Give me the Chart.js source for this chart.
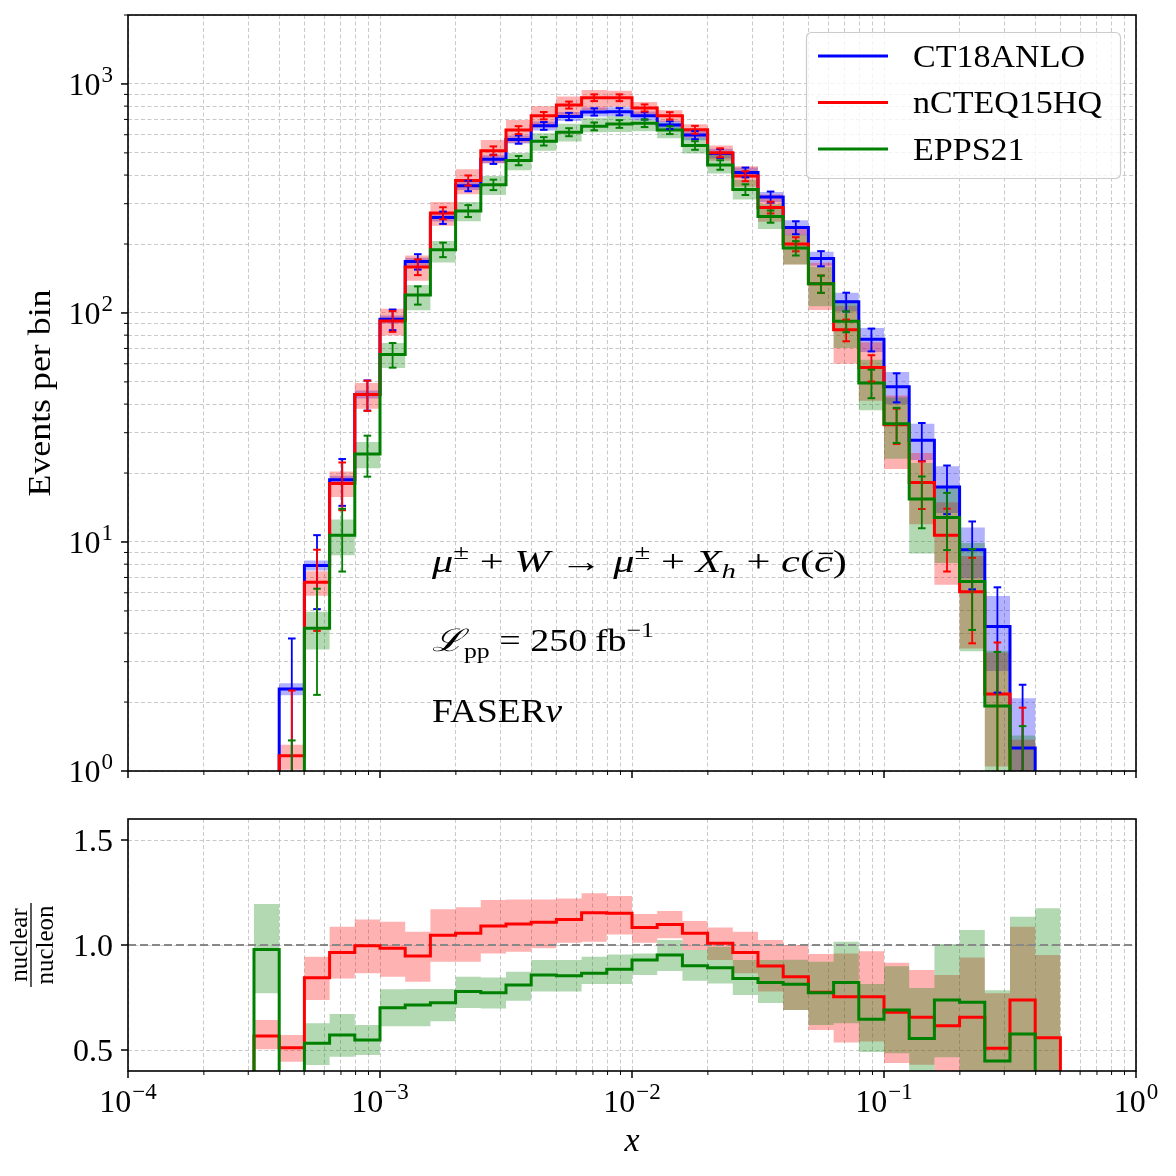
<!DOCTYPE html>
<html>
<head>
<meta charset="utf-8">
<script src="https://cdn.jsdelivr.net/npm/chart.js@4.4.1/dist/chart.umd.min.js"></script>
<style>
html, body { margin:0; padding:0; background:#ffffff; }
#wrap { position:relative; width:1176px; height:1176px; overflow:hidden; background:#ffffff; }
#cTop { position:absolute; left:0; top:0; }
#cBot { position:absolute; left:0; top:790px; }
</style>
</head>
<body>
<div id="wrap">
<canvas id="cTop" width="1176" height="790"></canvas>
<canvas id="cBot" width="1176" height="386"></canvas>
</div>
<script>
// ---------------- data ----------------
const binEdges = [3.162e-4, 3.981e-4, 5.012e-4, 6.310e-4, 7.943e-4, 1.000e-3, 1.259e-3, 1.585e-3, 1.995e-3, 2.512e-3,
  3.162e-3, 3.981e-3, 5.012e-3, 6.310e-3, 7.943e-3, 1.000e-2, 1.259e-2, 1.585e-2, 1.995e-2, 2.512e-2,
  3.162e-2, 3.981e-2, 5.012e-2, 6.310e-2, 7.943e-2, 1.000e-1, 1.259e-1, 1.585e-1, 1.995e-1, 2.512e-1,
  3.162e-1, 3.981e-1, 5.012e-1];
const seriesLabels = ['CT18ANLO', 'nCTEQ15HQ', 'EPPS21'];

const ct18Events = [0.30, 2.28, 7.90, 18.7, 44.1, 93.8, 167.6, 261, 359, 469, 572, 656, 721, 755, 757, 726,
  661, 598, 497, 411, 321, 236, 173, 112, 76.7, 47.6, 27.8, 17.4, 9.25, 4.27, 1.26, 0.30];
const ct18StatErr = [0.55, 1.51, 2.81, 4.32, 6.64, 9.69, 12.95, 16.16, 18.95, 21.66, 23.92, 25.61, 26.85, 27.48, 27.51, 26.94,
  25.71, 24.45, 22.29, 20.27, 17.92, 15.36, 13.15, 10.58, 8.76, 6.90, 5.27, 4.17, 3.04, 2.07, 1.12, 0.55];
const ct18PdfRelErr = [0.06, 0.06, 0.05, 0.04, 0.04, 0.04, 0.04, 0.04, 0.04, 0.04, 0.04, 0.045, 0.045, 0.045, 0.045, 0.045,
  0.045, 0.05, 0.05, 0.05, 0.05, 0.075, 0.07, 0.095, 0.12, 0.16, 0.18, 0.23, 0.25, 0.36, 0.65, 0.65];

const ncteqEvents = [0.17, 1.165, 6.67, 18.0, 44.0, 92.3, 158.9, 273, 379, 511, 629, 727, 809, 871, 871, 786,
  726, 631, 501, 396, 289, 200, 134, 84.4, 57.8, 32.5, 18.2, 10.7, 6.07, 2.17, 0.93, 0.17];
const ncteqStatErr = [0.41, 1.08, 2.58, 4.24, 6.63, 9.61, 12.61, 16.52, 19.47, 22.6, 25.08, 26.96, 28.44, 29.51, 29.51, 28.04,
  26.94, 25.12, 22.38, 19.9, 17.0, 14.14, 11.58, 9.19, 7.6, 5.7, 4.27, 3.27, 2.46, 1.47, 0.96, 0.41];

const eppsEvents = [0.29, 0.59, 4.20, 10.7, 24.2, 65.8, 119.7, 189, 279, 363, 463, 562, 616, 653, 669, 674,
  629, 539, 443, 346, 264, 192, 134, 92.0, 49.5, 32.8, 15.4, 12.8, 6.72, 1.92, 0.72, 0.06];
const eppsStatErr = [0.54, 0.77, 2.05, 3.27, 4.92, 8.11, 10.94, 13.75, 16.7, 19.05, 21.52, 23.71, 24.82, 25.55, 25.87, 25.96,
  25.08, 23.22, 21.05, 18.6, 16.25, 13.86, 11.58, 9.59, 7.04, 5.73, 3.92, 3.58, 2.59, 1.39, 0.85, 0.24];

const ncteqRatio = [0.567, 0.511, 0.844, 0.964, 0.997, 0.984, 0.948, 1.046, 1.056, 1.090, 1.100, 1.108, 1.122, 1.154, 1.151, 1.083,
  1.098, 1.056, 1.008, 0.964, 0.900, 0.849, 0.775, 0.754, 0.754, 0.680, 0.656, 0.616, 0.656, 0.508, 0.738, 0.558];
const ncteqRatioLo = [0.503, 0.444, 0.738, 0.841, 0.865, 0.849, 0.825, 0.92, 0.92, 0.96, 0.968, 0.984, 1.011, 1.016, 1.05, 1.011,
  1.032, 0.976, 0.929, 0.865, 0.779, 0.69, 0.595, 0.536, 0.54, 0.438, 0.43, 0.374, 0.37, 0.245, 0.3, 0.3];
const ncteqRatioHi = [0.643, 0.571, 0.944, 1.087, 1.122, 1.111, 1.063, 1.17, 1.18, 1.214, 1.217, 1.217, 1.221, 1.246, 1.233, 1.148,
  1.162, 1.114, 1.083, 1.063, 1.024, 1.0, 0.957, 0.96, 0.97, 0.916, 0.881, 0.857, 0.94, 0.77, 1.087, 0.952];

const eppsRatio = [0.979, 0.26, 0.532, 0.571, 0.548, 0.701, 0.714, 0.725, 0.778, 0.773, 0.810, 0.857, 0.854, 0.865, 0.884, 0.929,
  0.952, 0.901, 0.892, 0.841, 0.821, 0.813, 0.773, 0.821, 0.646, 0.690, 0.555, 0.738, 0.727, 0.448, 0.576, 0.20];
const eppsRatioLo = [0.77, 0.1, 0.429, 0.468, 0.476, 0.613, 0.613, 0.637, 0.70, 0.698, 0.735, 0.778, 0.778, 0.814, 0.814, 0.857,
  0.876, 0.83, 0.817, 0.762, 0.724, 0.69, 0.619, 0.627, 0.49, 0.485, 0.32, 0.465, 0.36, 0.22, 0.3, 0.3];
const eppsRatioHi = [1.195, 0.3, 0.627, 0.671, 0.619, 0.789, 0.79, 0.79, 0.849, 0.845, 0.873, 0.929, 0.929, 0.944, 0.955, 0.96,
  1.024, 0.976, 0.992, 0.929, 0.929, 0.93, 0.92, 1.016, 0.814, 0.899, 0.795, 1.005, 1.071, 0.785, 1.135, 1.175];

const xMajorTicks = [1e-4, 1e-3, 1e-2, 1e-1, 1];
const xMajorExp = ['\u22124', '\u22123', '\u22122', '\u22121', '0'];
const yTopMajorTicks = [1, 10, 100, 1000];
const yTopMajorExp = ['0', '1', '2', '3'];
const yBotTicks = [0.5, 1.0, 1.5];
const yBotLabels = ['0.5', '1.0', '1.5'];

// ---------------- styles ----------------
const COL = { blue: '#0000ff', red: '#ff0000', green: '#008000' };
const BAND = { blue: 'rgba(0,0,255,0.3)', red: 'rgba(255,0,0,0.3)', green: 'rgba(0,128,0,0.3)' };
const FAM = '"Liberation Serif","DejaVu Serif","Times New Roman",serif';
const font = (size, style) => (style ? style + ' ' : '') + size + 'px ' + FAM;

// ---------------- helpers to build point lists ----------------
const NB = binEdges.length - 1;
function stepPts(vals, floor) {
  const p = [{ x: binEdges[0], y: floor }];
  for (let i = 0; i < NB; i++) { p.push({ x: binEdges[i], y: vals[i] }); p.push({ x: binEdges[i + 1], y: vals[i] }); }
  p.push({ x: binEdges[NB], y: floor });
  return p;
}
function bandPts(vals) {
  const p = [];
  for (let i = 0; i < NB; i++) { p.push({ x: binEdges[i], y: vals[i] }); p.push({ x: binEdges[i + 1], y: vals[i] }); }
  return p;
}
function errPts(vals, errs, floor) {
  const p = [];
  for (let i = 0; i < NB; i++) {
    const c = Math.sqrt(binEdges[i] * binEdges[i + 1]);
    p.push({ x: c, y: Math.max(vals[i] - errs[i], floor) });
    p.push({ x: c, y: vals[i] + errs[i] });
    p.push({ x: c, y: null });
  }
  return p;
}
function logTicks(lo, hi) {
  const out = [];
  for (let k = Math.floor(Math.log10(lo)); k <= Math.ceil(Math.log10(hi)); k++)
    for (let m = 1; m < 10; m++) { const v = m * Math.pow(10, k); if (v >= lo * 0.9999 && v <= hi * 1.0001) out.push(v); }
  return out;
}
const isIn = (v, arr) => arr.some(m => Math.abs(v / m - 1) < 1e-6);

const lineDs = (data, color) => ({ data, borderColor: color, borderWidth: 3, pointRadius: 0, fill: false, clip: 0, tension: 0 });
const bandHiDs = (data, color) => ({ data, borderColor: 'transparent', borderWidth: 0, pointRadius: 0, backgroundColor: color, fill: '+1', clip: 0, tension: 0 });
const bandLoDs = (data) => ({ data, borderColor: 'transparent', borderWidth: 0, pointRadius: 0, fill: false, clip: 0, tension: 0 });
const errDs = (data, color) => ({ data, borderColor: color, borderWidth: 1.8, pointStyle: 'line', pointRadius: 3.8,
  pointBorderWidth: 2, pointBorderColor: color, pointBackgroundColor: color, fill: false, clip: 0, spanGaps: false, tension: 0 });

function withOrder(list) { const n = list.length; list.forEach((d, i) => { d.order = n - i; }); return list; }

// ---------------- top panel datasets ----------------
const ct18Lo = ct18Events.map((v, i) => v * (1 - ct18PdfRelErr[i]));
const ct18Hi = ct18Events.map((v, i) => v * (1 + ct18PdfRelErr[i]));
const ncteqLoTop = ct18Events.map((v, i) => v * ncteqRatioLo[i]);
const ncteqHiTop = ct18Events.map((v, i) => v * ncteqRatioHi[i]);
const eppsLoTop = ct18Events.map((v, i) => v * eppsRatioLo[i]);
const eppsHiTop = ct18Events.map((v, i) => v * eppsRatioHi[i]);

const FLOOR = 0.01;
const topDatasets = withOrder([
  bandHiDs(bandPts(ct18Hi), BAND.blue), bandLoDs(bandPts(ct18Lo)),
  bandHiDs(bandPts(ncteqHiTop), BAND.red), bandLoDs(bandPts(ncteqLoTop)),
  bandHiDs(bandPts(eppsHiTop), BAND.green), bandLoDs(bandPts(eppsLoTop)),
  lineDs(stepPts(ct18Events, FLOOR), COL.blue),
  lineDs(stepPts(ncteqEvents, FLOOR), COL.red),
  lineDs(stepPts(eppsEvents, FLOOR), COL.green),
  errDs(errPts(ct18Events, ct18StatErr, FLOOR), COL.blue),
  errDs(errPts(ncteqEvents, ncteqStatErr, FLOOR), COL.red),
  errDs(errPts(eppsEvents, eppsStatErr, FLOOR), COL.green)
]);

// ---------------- bottom panel datasets ----------------
const refLine = { data: [{ x: 1e-4, y: 1 }, { x: 1, y: 1 }], borderColor: '#888888', borderWidth: 2, borderDash: [8, 4],
  pointRadius: 0, fill: false, clip: 0 };
const botDatasets = withOrder([
  bandHiDs(bandPts(ncteqRatioHi), BAND.red), bandLoDs(bandPts(ncteqRatioLo)),
  bandHiDs(bandPts(eppsRatioHi), BAND.green), bandLoDs(bandPts(eppsRatioLo)),
  refLine,
  lineDs(stepPts(ncteqRatio, 0), COL.red),
  lineDs(stepPts(eppsRatio, 0), COL.green)
]);

// ---------------- drawing helpers ----------------
function drawRuns(ctx, runs, x, y, targetW, align, fixedScale) {
  ctx.save();
  let nat = 0;
  for (const r of runs) { ctx.font = font(r.size, r.italic ? 'italic' : ''); r.w = ctx.measureText(r.t).width; nat += r.w + (r.gap || 0); }
  const s = fixedScale ? fixedScale : (targetW ? targetW / nat : 1);
  const x0 = align === 'center' ? x - nat * s / 2 : (align === 'right' ? x - nat * s : x);
  ctx.translate(x0, y);
  ctx.scale(s, 1);
  ctx.fillStyle = '#000'; ctx.textBaseline = 'alphabetic'; ctx.textAlign = 'left';
  let cx = 0;
  for (const r of runs) {
    ctx.font = font(r.size, r.italic ? 'italic' : '');
    ctx.fillText(r.t, cx, r.dy || 0);
    if (r.bar) {
      ctx.beginPath(); ctx.lineWidth = 1.4; ctx.strokeStyle = '#000';
      ctx.moveTo(cx + r.w * 0.25, -r.size * 0.6); ctx.lineTo(cx + r.w * 1.0, -r.size * 0.6); ctx.stroke();
    }
    cx += r.w + (r.gap || 0);
  }
  ctx.restore();
}

function drawFrameTicks(chart, yMajors) {
  const { ctx, chartArea: a, scales: { x, y } } = chart;
  ctx.save();
  ctx.strokeStyle = '#000';
  for (const t of x.ticks) {
    const px = x.getPixelForValue(t.value);
    const maj = isIn(t.value, xMajorTicks);
    ctx.lineWidth = maj ? 1.5 : 1.0;
    ctx.beginPath(); ctx.moveTo(px, a.bottom); ctx.lineTo(px, a.bottom + (maj ? 7 : 4)); ctx.stroke();
  }
  for (const t of y.ticks) {
    const py = y.getPixelForValue(t.value);
    const maj = isIn(t.value, yMajors);
    ctx.lineWidth = maj ? 1.5 : 1.0;
    ctx.beginPath(); ctx.moveTo(a.left, py); ctx.lineTo(a.left - (maj ? 7 : 4), py); ctx.stroke();
  }
  ctx.lineWidth = 1.6;
  ctx.strokeRect(a.left, a.top, a.right - a.left, a.bottom - a.top);
  ctx.restore();
}

function powLabel(ctx, px, baseY, exp, align) {
  ctx.font = font(32); const w10 = ctx.measureText('10').width;
  ctx.font = font(23); const we = ctx.measureText(exp).width;
  const total = w10 + 1 + we;
  const x0 = align === 'center' ? px - total / 2 : px - total;
  ctx.fillStyle = '#000'; ctx.textAlign = 'left'; ctx.textBaseline = 'alphabetic';
  ctx.font = font(32); ctx.fillText('10', x0, baseY);
  ctx.font = font(23); ctx.fillText(exp, x0 + w10 + 1, baseY - 13);
}

const topDecor = {
  id: 'topDecor',
  afterDraw(chart) {
    const { ctx, chartArea: a, scales: { y } } = chart;
    drawFrameTicks(chart, yTopMajorTicks);
    ctx.save();
    yTopMajorTicks.forEach((v, i) => powLabel(ctx, a.left - 15, y.getPixelForValue(v) + 11, yTopMajorExp[i], 'right'));
    // y title
    ctx.save(); ctx.translate(50, 393); ctx.rotate(-Math.PI / 2);
    drawRuns(ctx, [{ t: 'Events per bin', size: 31 }], 0, 0, 207, 'center');
    ctx.restore();
    // annotations
    const F = 31;
    drawRuns(ctx, [
      { t: '\u03bc', size: F, italic: true }, { t: '\u00b1', size: 21, dy: -13 },
      { t: ' + ', size: F }, { t: 'W', size: F, italic: true }, { t: ' \u2192 ', size: F },
      { t: '\u03bc', size: F, italic: true }, { t: '\u00b1', size: 21, dy: -13 },
      { t: ' + ', size: F }, { t: 'X', size: F, italic: true }, { t: 'h', size: 21, italic: true, dy: 6 },
      { t: ' + ', size: F }, { t: 'c', size: F, italic: true }, { t: '(', size: F },
      { t: 'c', size: F, italic: true, bar: true }, { t: ')', size: F }
    ], 432, 572, 415, 'left');
    drawRuns(ctx, [
      { t: '\u2112', size: F, italic: true }, { t: 'pp', size: 21, dy: 7 }, { t: ' = ', size: F },
      { t: '250\u2009fb', size: F }, { t: '\u22121', size: 21, dy: -14 }
    ], 432, 651, 222, 'left');
    drawRuns(ctx, [{ t: 'FASER', size: 33 }, { t: '\u03bd', size: 33, italic: true }], 432, 722, 130, 'left');
    // legend
    ctx.beginPath();
    ctx.roundRect(806.5, 32.5, 314, 146, 5);
    ctx.fillStyle = 'rgba(255,255,255,0.8)'; ctx.fill();
    ctx.lineWidth = 1.2; ctx.strokeStyle = '#cccccc'; ctx.stroke();
    const rows = [56, 102.5, 149];
    const cols = [COL.blue, COL.red, COL.green];
    ctx.font = font(31);
    const legScale = 172 / ctx.measureText(seriesLabels[0]).width;
    rows.forEach((ry, i) => {
      ctx.beginPath(); ctx.lineWidth = 3; ctx.strokeStyle = cols[i];
      ctx.moveTo(818, ry); ctx.lineTo(888, ry); ctx.stroke();
      drawRuns(ctx, [{ t: seriesLabels[i], size: 31 }], 913, ry + 10.5, null, 'left', legScale);
    });
    ctx.restore();
  }
};

const botDecor = {
  id: 'botDecor',
  afterDraw(chart) {
    const { ctx, chartArea: a, scales: { x, y } } = chart;
    drawFrameTicks(chart, yBotTicks);
    ctx.save();
    xMajorTicks.forEach((v, i) => powLabel(ctx, x.getPixelForValue(v), a.bottom + 41, xMajorExp[i], 'center'));
    ctx.fillStyle = '#000'; ctx.font = font(32); ctx.textAlign = 'right'; ctx.textBaseline = 'alphabetic';
    yBotTicks.forEach((v, i) => ctx.fillText(yBotLabels[i], a.left - 15, y.getPixelForValue(v) + 11));
    // x title
    ctx.font = font(34, 'italic'); ctx.textAlign = 'center';
    ctx.fillText('x', (a.left + a.right) / 2, 361);
    // y title (fraction)
    ctx.save(); ctx.translate(33, 155); ctx.rotate(-Math.PI / 2);
    ctx.textAlign = 'center'; ctx.font = font(25);
    ctx.fillText('nuclear', 0, -6);
    ctx.fillText('nucleon', 0, 20);
    ctx.beginPath(); ctx.lineWidth = 1.3; ctx.strokeStyle = '#000';
    ctx.moveTo(-42, -2); ctx.lineTo(42, -2); ctx.stroke();
    ctx.restore();
    ctx.restore();
  }
};

// ---------------- charts ----------------
const gridCfg = { color: '#c4c4c4', lineWidth: 0.9, drawTicks: false };
const borderCfg = { display: false, dash: [4, 2.5] };
const xTickVals = logTicks(1e-4, 1);

function xScale(h) {
  return {
    type: 'logarithmic', min: 1e-4, max: 1,
    afterBuildTicks: s => { s.ticks = xTickVals.map(v => ({ value: v, major: isIn(v, xMajorTicks) })); },
    afterFit: s => { s.height = h; },
    ticks: { display: false }, grid: gridCfg, border: borderCfg
  };
}

new Chart(document.getElementById('cTop'), {
  type: 'line',
  data: { datasets: topDatasets },
  options: {
    responsive: false, animation: false, devicePixelRatio: 1, events: [],
    layout: { padding: { left: 0, right: 40, top: 15, bottom: 0 } },
    plugins: { legend: { display: false }, tooltip: { enabled: false } },
    scales: {
      x: xScale(19),
      y: {
        type: 'logarithmic', min: 1, max: 2000,
        afterBuildTicks: s => { s.ticks = logTicks(1, 2000).map(v => ({ value: v, major: isIn(v, yTopMajorTicks) })); },
        afterFit: s => { s.width = 128; },
        ticks: { display: false }, grid: gridCfg, border: borderCfg
      }
    }
  },
  plugins: [topDecor]
});

new Chart(document.getElementById('cBot'), {
  type: 'line',
  data: { datasets: botDatasets },
  options: {
    responsive: false, animation: false, devicePixelRatio: 1, events: [],
    layout: { padding: { left: 0, right: 40, top: 29, bottom: 0 } },
    plugins: { legend: { display: false }, tooltip: { enabled: false } },
    scales: {
      x: xScale(105),
      y: {
        type: 'linear', min: 0.4, max: 1.6,
        afterBuildTicks: s => { s.ticks = yBotTicks.map(v => ({ value: v })); },
        afterFit: s => { s.width = 128; },
        ticks: { display: false }, grid: gridCfg, border: borderCfg
      }
    }
  },
  plugins: [botDecor]
});
</script>
</body>
</html>
